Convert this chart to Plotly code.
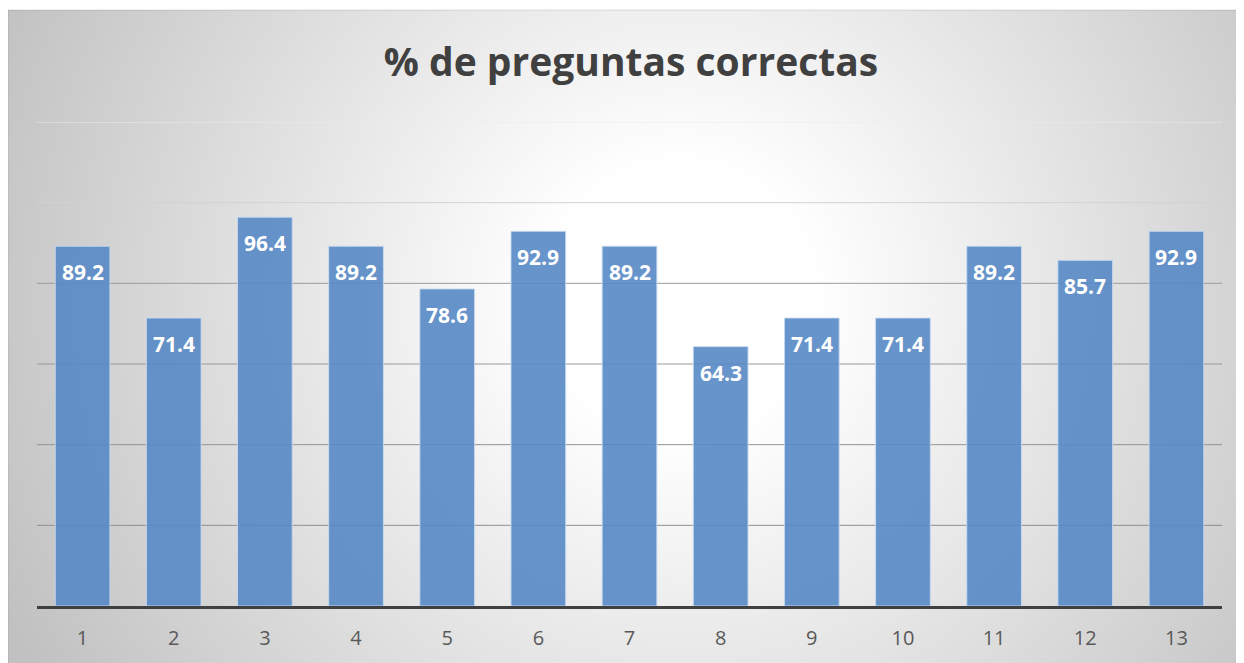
import base64
import struct
import zlib

import numpy as np
import plotly.graph_objects as go

# ---------------- data ----------------
categories = ["1", "2", "3", "4", "5", "6", "7", "8", "9", "10", "11", "12", "13"]
values = [89.2, 71.4, 96.4, 89.2, 78.6, 92.9, 89.2, 64.3, 71.4, 71.4, 89.2, 85.7, 92.9]
grid_values = [20, 40, 60, 80, 100, 120]
title_text = "% de preguntas correctas"

# ---------------- styles ----------------
W, H = 1236, 655
L, R, T, B = 29, 22, 114, 57
TOP_WHITE = 2
grid_colors = ["#8f8f8f", "#939393", "#999999", "#9c9c9c", "#d2d2d2", "#ebebeb"]
BAR_COLOR = "rgba(86,136,196,0.9)"


def gradient_png():
    # radial grey gradient like the Excel chart area
    gw, gh = 309, 164
    cw, ch = W, H - TOP_WHITE
    xs = (np.arange(gw) + 0.5) * cw / gw
    ys = TOP_WHITE + (np.arange(gh) + 0.5) * ch / gh
    X, Y = np.meshgrid(xs, ys)
    r = np.hypot(X - 672, Y - 292)
    t = np.clip((r - 140) / 610.0, 0, 1)
    g = (255 - 62 * t).astype(np.uint8)
    raw = b"".join(b"\x00" + row.tobytes() for row in g)

    def chunk(tag, data):
        c = struct.pack(">I", len(data)) + tag + data
        return c + struct.pack(">I", zlib.crc32(tag + data) & 0xFFFFFFFF)

    png = b"\x89PNG\r\n\x1a\n"
    png += chunk(b"IHDR", struct.pack(">IIBBBBB", gw, gh, 8, 0, 0, 0, 0))
    png += chunk(b"IDAT", zlib.compress(raw, 9))
    png += chunk(b"IEND", b"")
    return "data:image/png;base64," + base64.b64encode(png).decode()


fig = go.Figure(
    go.Bar(
        x=categories,
        y=values,
        marker=dict(color=BAR_COLOR, line=dict(color="rgba(200,218,240,0.9)", width=1)),
        width=0.6,
        hoverinfo="x+y",
    )
)

# data labels inside the top of each bar (x given as category index)
for i, v in enumerate(values):
    fig.add_annotation(
        x=i, y=v, text=f"{v:.1f}", showarrow=False, yanchor="middle", yshift=-26,
        font=dict(family="Open Sans", size=21, color="white", weight="bold"),
    )

# gridlines (each with its own shade)
for gv, gc in zip(grid_values, grid_colors):
    fig.add_shape(type="line", xref="paper", yref="y", x0=0, x1=1, y0=gv, y1=gv,
                  line=dict(color=gc, width=1), layer="below")

pw, ph = W - L - R, H - T - B
fig.add_layout_image(
    source=gradient_png(), xref="paper", yref="paper",
    x=-L / pw, y=(H - B - TOP_WHITE) / ph, sizex=W / pw, sizey=(H - TOP_WHITE) / ph,
    xanchor="left", yanchor="top", sizing="stretch", layer="below",
)
# thin chart-area border (top and left edges)
fig.add_shape(type="rect", xref="paper", yref="paper",
              x0=-L / pw, x1=(W - L + 2) / pw, y0=(-B - 2) / ph, y1=(H - B - TOP_WHITE) / ph,
              line=dict(color="rgba(0,0,0,0.12)", width=1), layer="below")

fig.update_layout(
    width=W, height=H,
    margin=dict(l=L, r=R, t=T, b=B),
    paper_bgcolor="white",
    plot_bgcolor="rgba(0,0,0,0)",
    showlegend=False,
    bargap=0.4,
    title=dict(
        text=title_text, x=0.5 + 0.004, xanchor="center",
        y=1 - 54 / H, yanchor="middle",
        font=dict(family="Open Sans", size=39, color="#404040", weight="bold"),
    ),
    xaxis=dict(
        type="category", showgrid=False, showline=True, linecolor="#404040", linewidth=3,
        ticks="", tickfont=dict(family="Open Sans", size=20, color="#595959"),
        ticklabelstandoff=12, fixedrange=True,
    ),
    yaxis=dict(range=[0, 120], showgrid=False, showticklabels=False, zeroline=False,
               ticks="", fixedrange=True),
)

fig.write_html("out.html", post_script="document.body.style.overflow='hidden';")
